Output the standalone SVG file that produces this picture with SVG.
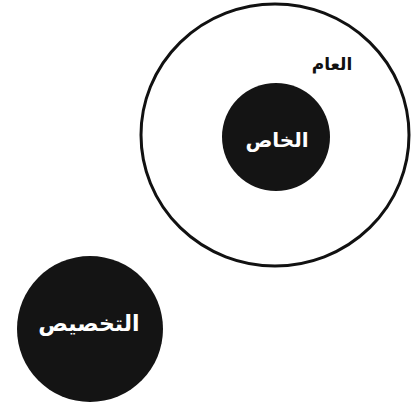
<svg xmlns="http://www.w3.org/2000/svg" width="411" height="403" viewBox="0 0 411 403">
<style>
.disk{fill:#141414}
.ring{fill:none;stroke:#111;stroke-width:3}
.lbl{font-family:"DejaVu Sans",sans-serif;font-weight:bold;text-anchor:middle;direction:rtl}
.w{fill:#fff}
.b{fill:#111}
</style>
<rect width="411" height="403" fill="#fff"/>
<g id="general">
<ellipse class="ring" cx="275" cy="135" rx="134" ry="131"/>
<text class="lbl b" x="332" y="70" font-size="17">العام</text>
</g>
<g id="specific">
<circle class="disk" cx="276" cy="137" r="54"/>
<text class="lbl w" x="277" y="147" font-size="20">الخاص</text>
</g>
<g id="specification">
<circle class="disk" cx="90" cy="329" r="73"/>
<text class="lbl w" x="89" y="331" font-size="22">التخصيص</text>
</g>
<g id="connectors"></g>
</svg>
